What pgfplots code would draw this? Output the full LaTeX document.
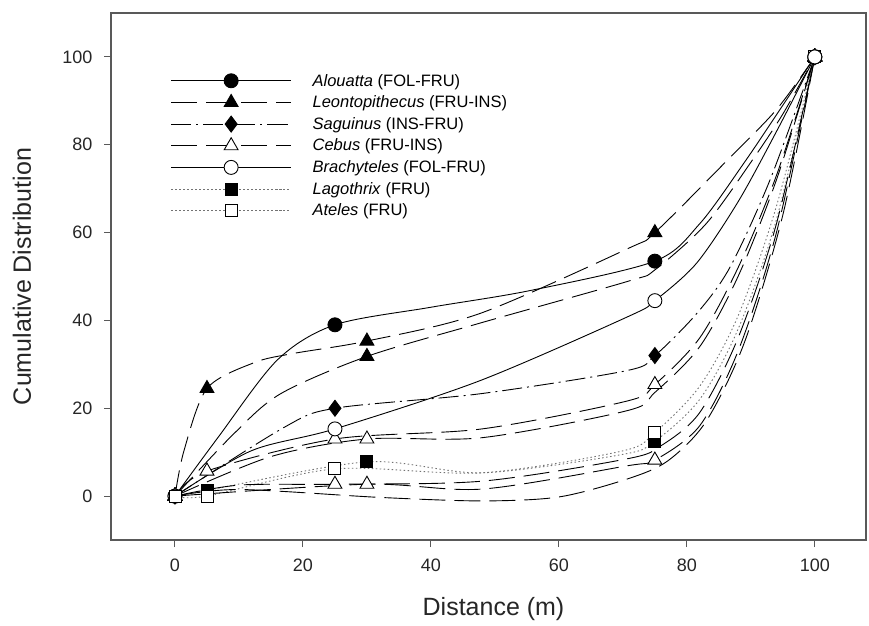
\documentclass[border=0pt]{standalone}
\usepackage{fontspec}
\setmainfont{Liberation Sans}
\usepackage{pgfplots}
\pgfplotsset{compat=1.18}
\pgfplotsset{
  ser/.style={black, line width=0.9pt, smooth, tension=0.5},
  openm/.style={mark options={solid, draw=black, fill=white, line width=0.9pt}},
  fillm/.style={mark options={solid, draw=black, fill=black, line width=0.9pt}},
  ldash/.style={dash pattern=on 26pt off 9pt},
  ddot/.style={dash pattern=on 20pt off 5pt on 2pt off 5pt},
  dots/.style={draw=black!55, dash pattern=on 1.5pt off 2.5pt},
}
\begin{document}
\begin{tikzpicture}
\useasboundingbox (-111pt,-85pt) rectangle (758pt,540pt);
\begin{axis}[
  scale only axis, width=755pt, height=527pt,
  at={(0,0)}, anchor=south west,
  xmin=-10, xmax=108, ymin=-10, ymax=110,
  xtick={0,20,...,100}, ytick={0,20,...,100},
  tick align=outside, tick pos=left,
  major tick length=7pt,
  axis line style={draw=black!65, line width=1.2pt},
  every tick/.style={black!65, line width=1pt},
  ticklabel style={font=\fontsize{18}{20}\selectfont, text=black!85},
  yticklabel style={xshift=-8pt},
  xticklabel style={yshift=-8pt},
  /pgf/number format/assume math mode=true,
  xlabel={Distance (m)}, ylabel={Cumulative Distribution},
  every axis x label/.style={at={(axis description cs:0.5,0)}, xshift=5pt, yshift=-69pt, anchor=center, font=\fontsize{25}{28}\selectfont, text=black!85},
  every axis y label/.style={at={(axis description cs:0,0.5)}, xshift=-89pt, rotate=90, anchor=center, font=\fontsize{25}{28}\selectfont, text=black!85},
  legend style={draw=none, fill=none, at={(axis cs:-0.7,96.6)}, anchor=north west, font=\fontsize{16.5}{18}\selectfont, row sep=4.2pt, inner sep=0pt},
  legend cell align=left,
  legend image code/.code={\draw[mark indices={2}] plot coordinates {(0pt,0pt) (60pt,0pt) (120pt,0pt)}; \path (139pt,0pt);},
]
% Alouatta
\addplot[ser, fillm, mark=*, mark size=7pt, mark indices={1,4,7,11}] coordinates {
(0,0) (6.7,13.3) (16,31) (25,39) (40,43) (55.5,46.8) (75,53.5) (82,62) (89,76) (95,89) (100,100)};
\addlegendentry{\textit{Alouatta} (FOL-FRU)}
% Leontopithecus
\addplot[ser, ldash, fillm, mark=triangle*, mark size=8pt, mark indices={1,3,6,9,12}] coordinates {
(0,0) (1.4,10.3) (5,24.5) (12.4,30.4) (18.6,32.5) (30,35.3) (47.7,41.6) (71,56.5) (75,60) (86,76) (94,88) (100,100)};
\addlegendentry{\textit{Leontopithecus} (FRU-INS)}
% Saguinus
\addplot[ser, ddot, fillm, mark=diamond*, mark size=8pt, mark indices={1,3,6,10}] coordinates {
(0,0) (17,15.6) (25,20) (47.7,23.3) (70.7,28.6) (75,32) (81.5,41.5) (86.7,52) (93,72) (100,100)};
\addlegendentry{\textit{Saguinus} (INS-FRU)}
% Cebus
\addplot[ser, ldash, openm, mark=triangle*, mark size=8pt, mark indices={1,2,3,6,10}] coordinates {
(0,0) (5,5.7) (25,13) (48,15.3) (70.8,21.7) (75,25.4) (82,36) (88,52) (94,73) (100,100)};
\addlegendentry{\textit{Cebus} (FRU-INS)}
% Brachyteles
\addplot[ser, openm, mark=*, mark size=7pt, mark indices={1,3,6,10}] coordinates {
(0,0) (11.9,10.3) (25,15.3) (47.7,26.3) (71,41) (75,44.5) (81.5,53) (88,67) (94,83) (100,100)};
\addlegendentry{\textit{Brachyteles} (FOL-FRU)}
% Lagothrix
\addplot[ser, dots, fillm, mark=square*, mark size=6pt, mark indices={1,2,3,6,10}] coordinates {
(0,0) (5,1.3) (30,7.8) (48,5.3) (70,9.5) (75,12.5) (82,22) (88,38) (94,63) (100,100)};
\addlegendentry{\textit{Lagothrix} (FRU)}
% Ateles
\addplot[ser, dots, openm, mark=square*, mark size=6pt, mark indices={1,2,3,6,10}] coordinates {
(0,0) (5,0) (25,6.2) (48,5.3) (70,10.3) (75,14.5) (82,25) (88,41) (94,66) (100,100)};
\addlegendentry{\textit{Ateles} (FRU)}
% additional groups
\addplot[ser, ldash, fillm, mark=triangle*, mark size=8pt, mark indices={1,4,11}, forget plot] coordinates {
(0,0) (9.2,14.2) (16.5,23.3) (30,31.8) (47.7,39.4) (71,49) (75,51.5) (83,62) (90,76) (95,87) (100,100)};
\addplot[ser, ldash, openm, mark=triangle*, mark size=8pt, mark indices={1,3,10}, forget plot] coordinates {
(0,0) (15,9) (30,13) (48,13.3) (70.8,19.5) (75,23.6) (82,34) (88,50) (94,72) (100,100)};
\addplot[ser, ldash, openm, mark=triangle*, mark size=8pt, mark indices={1,3,10}, forget plot] coordinates {
(0,0) (10,2.5) (25,2.7) (48,3.4) (70.7,8.5) (76,11.5) (82,19) (88,36) (94,62) (100,100)};
\addplot[ser, ldash, openm, mark=triangle*, mark size=8pt, mark indices={1,2,5,9}, forget plot] coordinates {
(0,0) (30,2.7) (48,1.6) (70.7,6.9) (75,8.2) (82,16) (88,33) (94,60) (100,100)};
\addplot[ser, ldash, openm, mark=triangle*, mark size=8pt, mark indices={1,11}, forget plot] coordinates {
(0,0) (10,1.5) (32,-0.3) (48,-1.1) (60,-0.2) (70.7,3.9) (77,8) (83,17) (89,35) (95,64) (100,100)};
% top markers
\addplot[only marks, openm, mark=*, mark size=7pt, forget plot] coordinates {(100,100)};
\addplot[only marks, openm, mark=square*, mark size=6pt, forget plot] coordinates {(0,0)};
\end{axis}
\end{tikzpicture}
\end{document}
